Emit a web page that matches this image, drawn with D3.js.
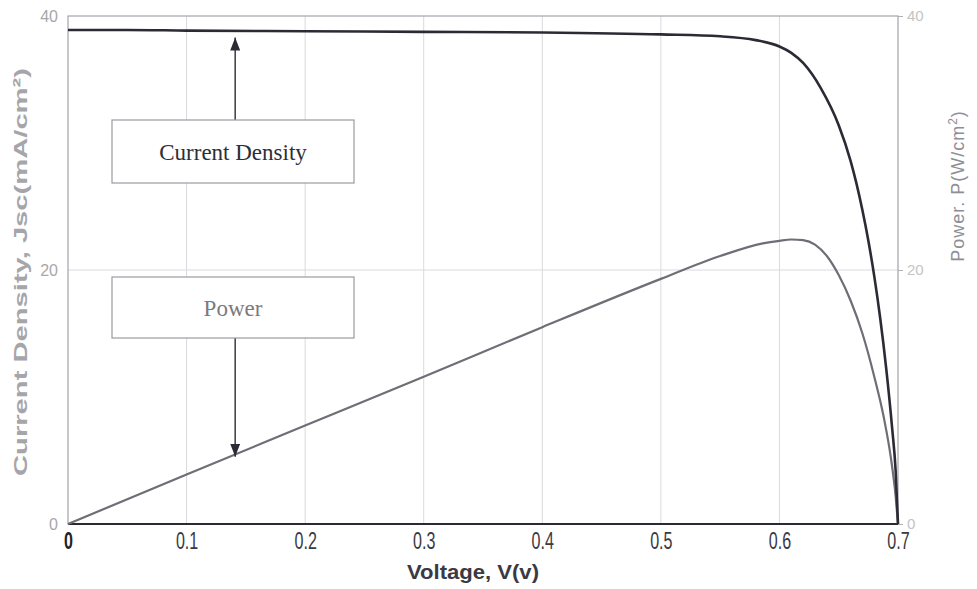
<!DOCTYPE html>
<html>
<head>
<meta charset="utf-8">
<script src="https://cdn.jsdelivr.net/npm/d3@7"></script>
<style>
  body { margin: 0; background: #fff; }
  svg { display: block; }
  .serif { font-family: 'Liberation Serif', 'Times New Roman', serif; }
</style>
</head>
<body>
<svg id="chart" width="977" height="589"></svg>
<script>
// данные
var xTicks = [0, 0.1, 0.2, 0.3, 0.4, 0.5, 0.6, 0.7];
var yTicks = [0, 20, 40];

var jVoltage = [0, 0.05, 0.1, 0.2, 0.3, 0.4, 0.5, 0.55, 0.58, 0.6, 0.61, 0.62, 0.635, 0.65, 0.66, 0.665, 0.67, 0.675, 0.68, 0.685, 0.69, 0.695, 0.698, 0.7];
var jCurrent = [38.9, 38.9, 38.85, 38.8, 38.75, 38.7, 38.55, 38.4, 38.1, 37.6, 37.1, 36.3, 34.3, 31.4, 28.6, 26.8, 24.7, 22.3, 19.5, 16.2, 12.3, 7.6, 4.2, 0];

var pVoltage = [0, 0.1, 0.2, 0.3, 0.4, 0.5, 0.55, 0.586, 0.6, 0.61, 0.62, 0.63, 0.64, 0.65, 0.66, 0.67, 0.68, 0.688, 0.694, 0.698, 0.7];
var pPower = [0, 3.9, 7.75, 11.6, 15.5, 19.3, 21.1, 22.1, 22.3, 22.4, 22.35, 22.0, 21.1, 19.6, 17.6, 15.0, 11.6, 8.4, 5.2, 2.2, 0];

var svg = d3.select('#chart');

var x = d3.scaleLinear().domain([0, 0.7]).range([68, 898]);
var y = d3.scaleLinear().domain([0, 40]).range([524, 16]);

var g = svg.append('g');

// сетка
g.selectAll('.vgrid')
    .data(xTicks.slice(1, -1))
    .enter()
    .append('line')
    .attr('x1', d => x(d)).attr('x2', d => x(d))
    .attr('y1', y(0)).attr('y2', y(40))
    .attr('stroke', '#dadade')
    .attr('stroke-width', 1);

g.append('line')
    .attr('x1', x(0)).attr('x2', x(0.7))
    .attr('y1', y(20)).attr('y2', y(20))
    .attr('stroke', '#dadade')
    .attr('stroke-width', 1);

// рамка
g.append('rect')
    .attr('x', x(0)).attr('y', y(40))
    .attr('width', x(0.7) - x(0)).attr('height', y(0) - y(40))
    .attr('fill', 'none')
    .attr('stroke', '#a4a4aa')
    .attr('stroke-width', 1.2);

g.append('line')
    .attr('x1', x(0)).attr('x2', x(0.7))
    .attr('y1', y(0)).attr('y2', y(0))
    .attr('stroke', '#2a2a30')
    .attr('stroke-width', 2);

// ось X
var xAxis = d3.axisBottom(x)
    .tickValues(xTicks)
    .tickSize(0)
    .tickPadding(9)
    .tickFormat(d => d === 0 ? '0' : d3.format('.1f')(d));

g.append('g')
    .attr('transform', `translate(0, ${y(0)})`)
    .call(xAxis)
    .call(a => a.select('.domain').remove())
    .selectAll('text')
    .attr('font-family', 'Liberation Sans, Arial, sans-serif')
    .attr('font-size', 23)
    .attr('transform', 'scale(0.7, 1)')
    .attr('fill', d => d === 0 ? '#222228' : '#3a3a44')
    .attr('font-weight', d => d === 0 ? 'bold' : 'normal');

// левая ось Y
var yAxisL = d3.axisLeft(y).tickValues(yTicks).tickSize(0).tickPadding(10);
g.append('g')
    .attr('transform', `translate(${x(0)}, 0)`)
    .call(yAxisL)
    .call(a => a.select('.domain').remove())
    .selectAll('text')
    .attr('font-family', 'Liberation Sans, Arial, sans-serif')
    .attr('font-size', 16)
    .attr('fill', '#a8a8a8');

// правая ось Y
var yAxisR = d3.axisRight(y).tickValues(yTicks).tickSize(5).tickPadding(4);
g.append('g')
    .attr('transform', `translate(${x(0.7)}, 0)`)
    .call(yAxisR)
    .call(a => a.select('.domain').remove())
    .call(a => a.selectAll('line').attr('stroke', '#b0b0b0'))
    .selectAll('text')
    .attr('font-family', 'Liberation Sans, Arial, sans-serif')
    .attr('font-size', 15)
    .attr('fill', '#c4c4c4');

// кривые
var jLine = d3.line()
    .x((d, i) => x(jVoltage[i]))
    .y(d => y(d))
    .curve(d3.curveMonotoneX);

var pLine = d3.line()
    .x((d, i) => x(pVoltage[i]))
    .y(d => y(d))
    .curve(d3.curveMonotoneX);

g.append('path')
    .attr('d', pLine(pPower))
    .attr('fill', 'none')
    .attr('stroke', '#6e6e76')
    .attr('stroke-width', 2.2);

g.append('path')
    .attr('d', jLine(jCurrent))
    .attr('fill', 'none')
    .attr('stroke', '#2b2b35')
    .attr('stroke-width', 2.6);

// стрелки
var defs = svg.append('defs');
defs.append('marker')
    .attr('id', 'arrow')
    .attr('viewBox', '0 0 13 10')
    .attr('refX', 13).attr('refY', 5)
    .attr('markerUnits', 'userSpaceOnUse')
    .attr('markerWidth', 13).attr('markerHeight', 10)
    .attr('orient', 'auto')
    .append('path')
    .attr('d', 'M0,0 L13,5 L0,10 Z')
    .attr('fill', '#2b2b35');

var arrowX = x(0.141);

g.append('line')
    .attr('x1', arrowX).attr('x2', arrowX)
    .attr('y1', 120).attr('y2', y(38.3))
    .attr('stroke', '#3a3a42')
    .attr('stroke-width', 1.5)
    .attr('marker-end', 'url(#arrow)');

g.append('line')
    .attr('x1', arrowX).attr('x2', arrowX)
    .attr('y1', 338).attr('y2', y(5.3))
    .attr('stroke', '#3a3a42')
    .attr('stroke-width', 1.5)
    .attr('marker-end', 'url(#arrow)');

// подписи-рамки
var boxes = [
    { text: 'Current Density', y0: 120, y1: 183, color: '#2e2e36' },
    { text: 'Power', y0: 277, y1: 338, color: '#7a7a80' }
];

var box = g.selectAll('.note')
    .data(boxes)
    .enter()
    .append('g')
    .attr('class', 'note');

box.append('rect')
    .attr('x', 112).attr('y', d => d.y0)
    .attr('width', 242).attr('height', d => d.y1 - d.y0)
    .attr('fill', '#fff')
    .attr('stroke', '#9a9aa2')
    .attr('stroke-width', 1.2);

box.append('text')
    .attr('class', 'serif')
    .attr('x', 233)
    .attr('y', d => (d.y0 + d.y1) / 2 + 8)
    .attr('text-anchor', 'middle')
    .attr('font-size', 23)
    .attr('fill', d => d.color)
    .text(d => d.text);

// подписи осей
svg.append('text')
    .attr('x', 473).attr('y', 579)
    .attr('text-anchor', 'middle')
    .attr('font-family', 'Liberation Sans, Arial, sans-serif')
    .attr('font-size', 21)
    .attr('font-weight', 'bold')
    .attr('fill', '#3a3a44')
    .attr('textLength', 132)
    .attr('lengthAdjust', 'spacingAndGlyphs')
    .text('Voltage, V(v)');

svg.append('text')
    .attr('transform', 'translate(27, 272) rotate(-90)')
    .attr('text-anchor', 'middle')
    .attr('font-family', 'Liberation Sans, Arial, sans-serif')
    .attr('font-size', 19)
    .attr('font-weight', 'bold')
    .attr('fill', '#a6a6aa')
    .attr('textLength', 408)
    .attr('lengthAdjust', 'spacingAndGlyphs')
    .text('Current Density, Jsc(mA/cm²)');

var rTitle = svg.append('text')
    .attr('transform', 'translate(964, 186) rotate(-90)')
    .attr('text-anchor', 'middle')
    .attr('font-family', 'Liberation Sans, Arial, sans-serif')
    .attr('font-size', 18)
    .attr('letter-spacing', 1)
    .attr('fill', '#8e8e96');
rTitle.append('tspan').text('Power. P(W/cm');
rTitle.append('tspan').attr('font-size', 12).attr('dy', -7).text('2');
rTitle.append('tspan').attr('dy', 7).text(')');
</script>
</body>
</html>
